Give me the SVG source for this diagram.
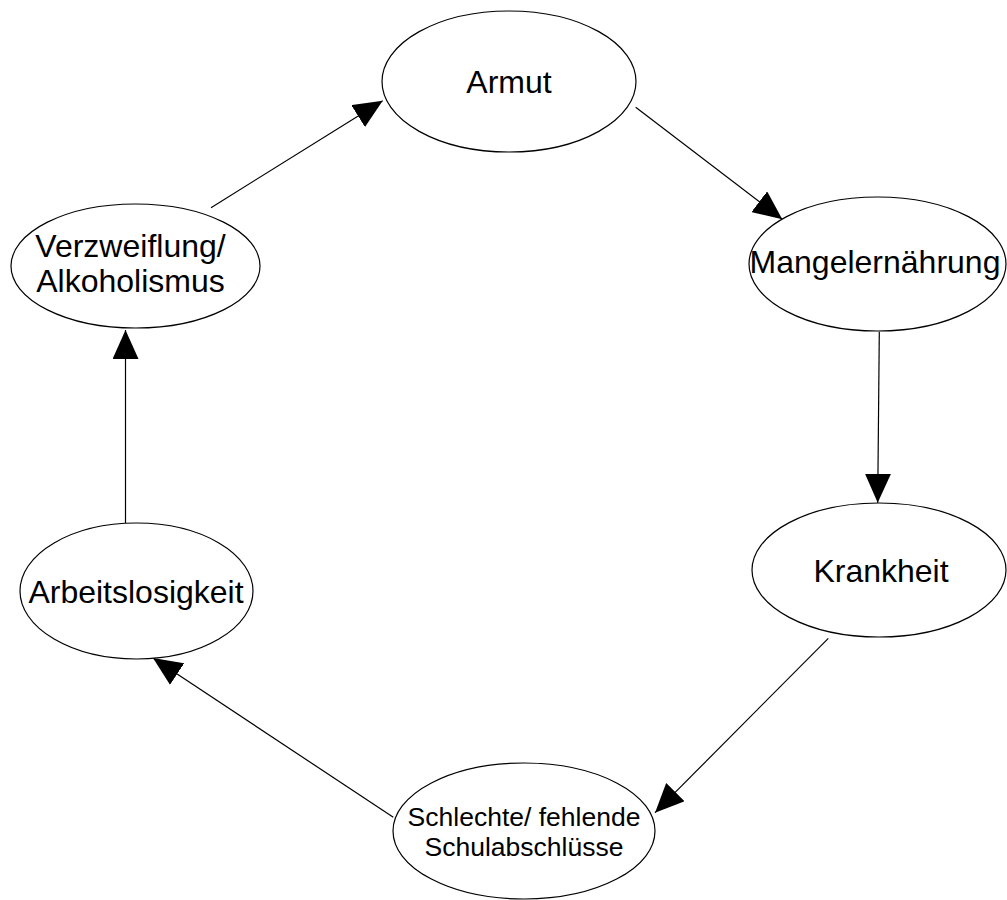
<svg xmlns="http://www.w3.org/2000/svg" width="1007" height="900" viewBox="0 0 1007 900">
<style>
.node ellipse { fill: #ffffff; stroke: #000000; stroke-width: 1.2; }
.node text { font-family: "Liberation Sans", Arial, sans-serif; font-size: 32px; fill: #000000; text-anchor: middle; }
.node text.small { font-size: 26.5px; }
.edge { stroke: #000000; stroke-width: 1.2; fill: none; marker-end: url(#arrow); }
</style>
<defs>
<marker id="arrow" markerUnits="userSpaceOnUse" markerWidth="30" markerHeight="26" refX="29" refY="13" orient="auto">
<path d="M0,0 L29,13 L0,26 Z" fill="#000000"/>
</marker>
</defs>
<rect x="0" y="0" width="1007" height="900" fill="#ffffff"/>
<g id="connectors">
<line class="edge" x1="211" y1="207.7" x2="382.7" y2="100.7"/>
<line class="edge" x1="635.7" y1="107.3" x2="782.3" y2="219.3"/>
<line class="edge" x1="879.3" y1="331.7" x2="877.7" y2="502.7"/>
<line class="edge" x1="828.3" y1="638.3" x2="655" y2="812.7"/>
<line class="edge" x1="393.3" y1="817.3" x2="153" y2="658"/>
<line class="edge" x1="125.5" y1="523" x2="125.5" y2="330"/>
</g>
<g id="node-armut" class="node">
<ellipse cx="509" cy="81.5" rx="127" ry="70.5"/>
<text x="509" y="92.5">Armut</text>
</g>
<g id="node-mangelernaehrung" class="node">
<ellipse cx="877.5" cy="264" rx="128.5" ry="67"/>
<text x="875" y="273.3">Mangelernährung</text>
</g>
<g id="node-krankheit" class="node">
<ellipse cx="879" cy="570" rx="127" ry="67"/>
<text x="881" y="581.7">Krankheit</text>
</g>
<g id="node-schulabschluesse" class="node">
<ellipse cx="524" cy="831" rx="131" ry="68"/>
<text class="small" x="524" y="826">Schlechte/ fehlende</text>
<text class="small" x="524" y="856">Schulabschlüsse</text>
</g>
<g id="node-arbeitslosigkeit" class="node">
<ellipse cx="136.5" cy="591" rx="116.5" ry="68"/>
<text x="136" y="602.7">Arbeitslosigkeit</text>
</g>
<g id="node-verzweiflung" class="node">
<ellipse cx="135.5" cy="266" rx="124.5" ry="62"/>
<text x="130.5" y="256.7">Verzweiflung/</text>
<text x="130.5" y="291.7">Alkoholismus</text>
</g>
</svg>
